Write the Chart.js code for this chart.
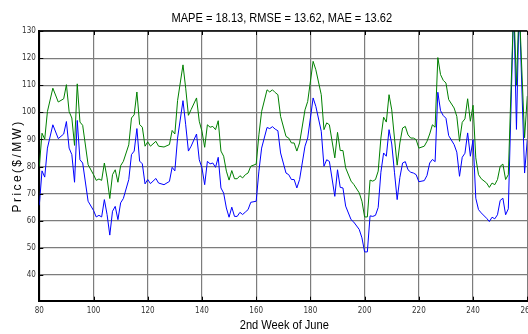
<!DOCTYPE html>
<html>
<head>
<meta charset="utf-8">
<script src="https://cdn.jsdelivr.net/npm/chart.js@4"></script>
<style>
  html, body { margin: 0; padding: 0; background: #fff; overflow: hidden; }
  #wrap { position: relative; width: 560px; height: 334px; }
</style>
</head>
<body>
<div id="wrap"><canvas id="priceChart" width="560" height="334"></canvas></div>
<script>
// hour of the month, and the two price curves ($/MW)
const hours = [
  80, 81, 82, 83, 85, 87, 89, 90, 91, 92, 93, 94, 95, 96, 98, 100,
  101, 102, 103, 104, 105, 106, 107, 108, 109, 110, 111, 113, 114, 115, 116, 117,
  118, 119, 120, 121, 123, 124, 126, 128, 129, 130, 131, 133, 134, 135, 136, 138,
  139, 140, 141, 142, 143, 144, 145, 146, 147, 148, 149, 150, 151, 152, 153, 154,
  155, 156, 157, 158, 160, 161, 162, 164, 165, 166, 167, 168, 169, 171, 172, 173,
  174, 175, 176, 178, 179, 181, 182, 184, 185, 186, 187, 189, 190, 191, 192, 193,
  195, 196, 198, 199, 200, 201, 202, 203, 204, 205, 206, 207, 208, 209, 210, 211,
  212, 213, 214, 215, 216, 217, 218, 219, 220, 222, 223, 224, 225, 226, 227, 228,
  229, 230, 231, 233, 234, 235, 236, 237, 238, 239, 240, 241, 242, 243, 245, 246,
  247, 248, 249, 250, 251, 252, 253, 255, 256, 257, 259, 260
];
const forecastPrice = [
  80, 92.3, 90.1, 100.3, 108.9, 103.8, 105, 110.2, 100.3, 97.9, 87.8, 110.5, 96.4, 95.2, 80.7, 77,
  74.9, 75.4, 74.9, 81.3, 75.8, 68.2, 77, 78.8, 74.2, 80.3, 81.9, 88, 97.9, 99.1, 107.5, 95.5,
  94.5, 87.5, 89.1, 87.5, 89.3, 87.5, 87.2, 88.1, 93.3, 92, 104.3, 117.5, 108.9, 98.9, 101, 105.3,
  96.7, 93, 87.1, 95.4, 94.5, 94.8, 93.6, 96.9, 85.7, 83.8, 78.3, 75, 78.5, 75.5, 75.5, 76.6,
  75.8, 77, 77.6, 80.1, 80.9, 91.7, 100.3, 108.3, 107.5, 108.3, 107.3, 106.5, 98.5, 91.1, 90.5, 88.7,
  88.7, 85.7, 88.7, 100.9, 104, 118.8, 115.7, 106.5, 93.6, 96.1, 95.4, 83.2, 92.6, 85.9, 85.9, 79.5,
  74.6, 73.4, 70.3, 67.2, 61.4, 61.4, 75, 74.6, 75.2, 78.3, 90.5, 98.2, 96.4, 106.5, 100.9, 90.5,
  80.5, 88.7, 94.2, 94.8, 91.7, 90.5, 90.5, 89.9, 86.8, 87.5, 89.3, 92, 95.4, 94.5, 120.2, 113.9,
  111.8, 110.8, 104.7, 101.6, 98.5, 89.3, 96.3, 97.6, 105, 96.7, 102.6, 83.2, 77, 75.5, 73.9, 72.3,
  73.9, 73.3, 75.2, 80.1, 80.9, 75.2, 77, 140, 110, 140, 90.6, 106
];
const actualPrice = [
  65.7, 78.4, 76.1, 86.8, 95.4, 90.3, 92, 96.6, 86.8, 84.4, 74.2, 97, 82.5, 81.3, 67.2, 63.8,
  61.4, 62, 61.4, 67.8, 62.3, 54.7, 63.5, 65.3, 60.4, 66.6, 68.2, 75.2, 84.4, 85.7, 94, 82,
  81, 73.6, 75.2, 73.7, 75.6, 73.9, 73.3, 74.5, 79.7, 78.4, 90.5, 104.3, 95.4, 85.7, 87.5, 92,
  82.5, 79.5, 73.3, 81.9, 81, 81.3, 79.7, 83.4, 72.1, 70.2, 64.7, 61.3, 65, 61.6, 61.6, 63.1,
  62.3, 63.2, 64.1, 66.8, 67.2, 78.3, 86.8, 94.4, 94, 94.7, 93.8, 93.2, 85, 77.6, 77, 75.2,
  75.2, 72.1, 75.2, 87.5, 90.5, 105.3, 102.2, 93, 80.1, 82.5, 81.9, 69, 78.8, 72.3, 72.1, 65.4,
  60.4, 59.5, 56.8, 53.7, 48.5, 48.5, 61.8, 61.6, 62, 64.9, 77.9, 85, 83.8, 93.6, 88.3, 77.9,
  67.8, 76, 81.3, 81.8, 78.8, 77.9, 77.6, 77, 74.4, 74.8, 76.7, 81.3, 82.6, 81.8, 107.4, 100.6,
  98.8, 97.8, 91.4, 88.1, 85.3, 76.4, 83.4, 84.9, 92.4, 83.8, 89.9, 68.3, 64.1, 62.9, 60.9, 59.7,
  61.3, 60.7, 62.2, 67.5, 68.3, 62.2, 64.4, 140, 93.7, 140, 77.6, 90
];

const xTicks = [80, 100, 120, 140, 160, 180, 200, 220, 240, 260];
const yTicks = [40, 50, 60, 70, 80, 90, 100, 110, 120, 130];

const chartTitle = 'MAPE = 18.13, RMSE = 13.62, MAE = 13.62';
const xTitle = '2nd Week of June';
const yTitle = 'Price($/MW)';

const tickFont = "'Liberation Sans Narrow', 'DejaVu Sans Condensed', 'Arial Narrow', sans-serif";
const labelFont = "'Liberation Sans', Arial, sans-serif";

const toPoints = (vals) => hours.map((h, i) => ({x: h, y: vals[i]}));

// narrow text: regular sans squeezed horizontally
function drawNarrowText(ctx, text, cx, cy, size) {
  ctx.save();
  ctx.translate(cx, cy);
  ctx.scale(0.82, 1);
  ctx.font = size + 'px ' + labelFont;
  ctx.fillStyle = '#000';
  ctx.textAlign = 'center';
  ctx.textBaseline = 'middle';
  ctx.fillText(text, 0, 0);
  ctx.restore();
}

// white background, top border, inward tick marks, titles
const framePlugin = {
  id: 'frame',
  beforeDraw: (chart) => {
    const ctx = chart.ctx;
    ctx.save();
    ctx.fillStyle = '#fff';
    ctx.fillRect(0, 0, chart.width, chart.height);
    ctx.restore();
  },
  afterDatasetsDraw: (chart) => {
    const {ctx, chartArea: a, scales: {x, y}} = chart;
    ctx.save();
    ctx.strokeStyle = '#000';
    ctx.lineWidth = 1.5;
    ctx.beginPath();
    ctx.moveTo(a.left, a.top);
    ctx.lineTo(a.right, a.top);
    ctx.stroke();

    ctx.lineWidth = 1;
    ctx.beginPath();
    xTicks.forEach(v => {
      const px = Math.round(x.getPixelForValue(v)) + 0.5;
      ctx.moveTo(px, a.bottom);
      ctx.lineTo(px, a.bottom - 4);
      ctx.moveTo(px, a.top);
      ctx.lineTo(px, a.top + 4);
    });
    yTicks.forEach(v => {
      const py = Math.round(y.getPixelForValue(v)) + 0.5;
      ctx.moveTo(a.left, py);
      ctx.lineTo(a.left + 4, py);
    });
    ctx.stroke();
    ctx.restore();

    const cx = (a.left + a.right) / 2;
    drawNarrowText(ctx, chartTitle, cx - 1.5, 17.8, 13.5);
    drawNarrowText(ctx, xTitle, cx + 1, 324.8, 13.5);

    ctx.save();
    ctx.translate(17.5, (a.top + a.bottom) / 2);
    ctx.rotate(-Math.PI / 2);
    ctx.font = '12px ' + labelFont;
    ctx.letterSpacing = '2.4px';
    ctx.fillStyle = '#000';
    ctx.textAlign = 'center';
    ctx.textBaseline = 'middle';
    ctx.fillText(yTitle, 0, 0);
    ctx.restore();
  }
};

new Chart(document.getElementById('priceChart'), {
  type: 'line',
  data: {
    datasets: [
      {
        label: 'Forecast',
        data: toPoints(forecastPrice),
        borderColor: '#008000',
        borderWidth: 1,
        pointRadius: 0,
        tension: 0
      },
      {
        label: 'Actual',
        data: toPoints(actualPrice),
        borderColor: '#0000ff',
        borderWidth: 1,
        pointRadius: 0,
        tension: 0
      }
    ]
  },
  options: {
    responsive: false,
    animation: false,
    devicePixelRatio: 1,
    layout: { padding: { left: 0, right: 32.7, top: 31, bottom: 0 } },
    plugins: {
      legend: { display: false },
      tooltip: { enabled: false },
      title: { display: false }
    },
    scales: {
      x: {
        type: 'linear',
        min: 80,
        max: 260,
        afterBuildTicks: (s) => { s.ticks = xTicks.map(v => ({value: v})); },
        afterFit: (s) => { s.height = 33.3; },
        grid: { color: '#7c7c7c', lineWidth: 1.2, drawTicks: false },
        border: { color: '#000', width: 2 },
        ticks: {
          padding: 5,
          color: '#333',
          autoSkip: false,
          maxRotation: 0,
          font: { family: tickFont, size: 8 }
        }
      },
      y: {
        type: 'linear',
        min: 30.5,
        max: 130,
        afterBuildTicks: (s) => { s.ticks = yTicks.map(v => ({value: v})); },
        afterFit: (s) => { s.width = 39.3; },
        grid: { color: '#7c7c7c', lineWidth: 1.2, drawTicks: false },
        border: { color: '#000', width: 2 },
        ticks: {
          padding: 3.5,
          color: '#333',
          font: { family: tickFont, size: 8 }
        }
      }
    }
  },
  plugins: [framePlugin]
});
</script>
</body>
</html>
